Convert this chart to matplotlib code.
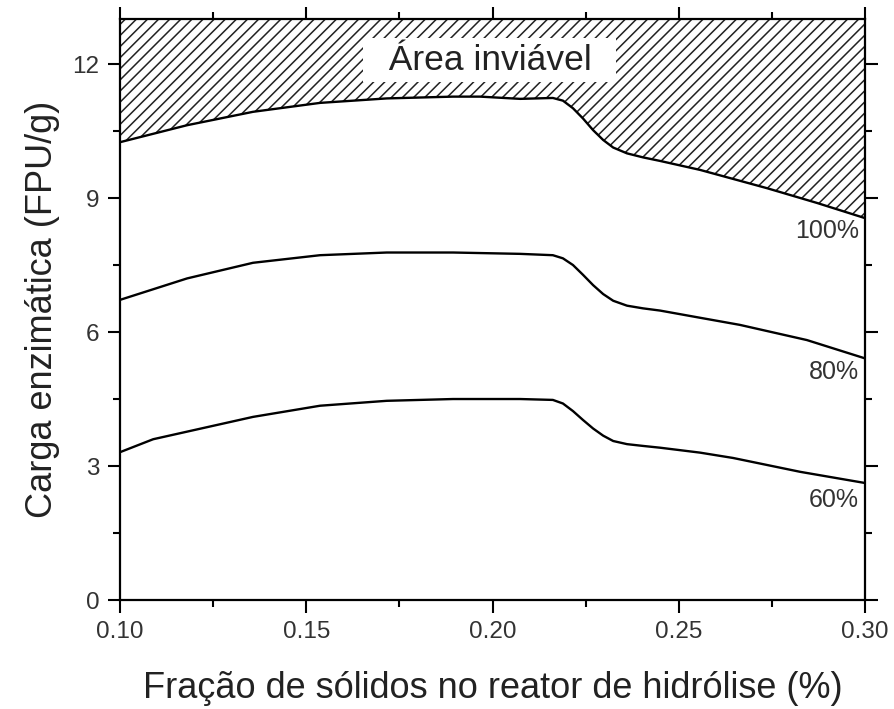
import matplotlib.pyplot as plt
from matplotlib.ticker import MultipleLocator

DPI = 100

plt.rcParams['font.family'] = ['Liberation Sans', 'DejaVu Sans']
plt.rcParams['hatch.linewidth'] = 1.1

# curves (fraction of solids vs enzyme load)
x100 = [0.100, 0.118, 0.1357, 0.1537, 0.1716, 0.1894, 0.1967, 0.2074, 0.2162, 0.2189,
        0.2216, 0.2243, 0.2270, 0.2297, 0.2324, 0.2361, 0.2404, 0.245, 0.2557, 0.2737,
        0.2871, 0.300]
y100 = [10.25, 10.63, 10.93, 11.13, 11.23, 11.27, 11.27, 11.22, 11.24, 11.18,
        11.01, 10.78, 10.52, 10.30, 10.13, 10.00, 9.91, 9.83, 9.63, 9.22,
        8.89, 8.55]

x80 = [0.100, 0.118, 0.1357, 0.1537, 0.1716, 0.1894, 0.2074, 0.2162, 0.2189, 0.2216,
       0.2243, 0.2270, 0.2297, 0.2324, 0.2361, 0.2404, 0.245, 0.255, 0.2664, 0.2844,
       0.300]
y80 = [6.72, 7.20, 7.55, 7.72, 7.78, 7.78, 7.75, 7.72, 7.65, 7.50,
       7.28, 7.05, 6.85, 6.70, 6.59, 6.53, 6.48, 6.33, 6.16, 5.82,
       5.41]

x60 = [0.100, 0.1089, 0.1357, 0.1537, 0.1716, 0.1894, 0.2074, 0.2162, 0.2189, 0.2216,
       0.2243, 0.2270, 0.2297, 0.2324, 0.2361, 0.2404, 0.245, 0.2557, 0.2646, 0.2826,
       0.300]
y60 = [3.31, 3.60, 4.10, 4.35, 4.46, 4.50, 4.50, 4.48, 4.40, 4.23,
       4.03, 3.84, 3.68, 3.56, 3.49, 3.45, 3.41, 3.30, 3.18, 2.87,
       2.62]

curve_labels = ['100%', '80%', '60%']
label_y = [8.27, 5.10, 2.24]

fig = plt.figure(figsize=(895 / DPI, 709 / DPI), dpi=DPI)
ax = fig.add_axes([0.1341, 0.1537, 0.8324, 0.819])

# infeasible region above the 100% curve
ax.fill_between(x100, y100, 13, facecolor='white', edgecolor='#222222',
                hatch='///', linewidth=0)
for xs, ys in [(x100, y100), (x80, y80), (x60, y60)]:
    ax.plot(xs, ys, color='black', lw=1.7, solid_joinstyle='round')

for lab, yy in zip(curve_labels, label_y):
    ax.text(0.2984, yy, lab, ha='right', va='center', fontsize=18, color='#333333')

ax.text(0.1993, 12.09, '  Área inviável  ', ha='center', va='center',
        fontsize=25.5, color='#222222',
        bbox=dict(boxstyle='square,pad=0.15', facecolor='white', edgecolor='none'))

ax.set_xlim(0.10, 0.30)
ax.set_ylim(0, 13)
ax.set_xticks([0.10, 0.15, 0.20, 0.25, 0.30])
ax.set_xticklabels(['0.10', '0.15', '0.20', '0.25', '0.30'])
ax.set_yticks([0, 3, 6, 9, 12])
ax.xaxis.set_minor_locator(MultipleLocator(0.025))
ax.yaxis.set_minor_locator(MultipleLocator(1.5))
ax.tick_params(which='both', direction='out', top=True, right=True, width=1.5,
               labelsize=17.5, labelcolor='#333333', pad=6)
ax.tick_params(which='major', length=9)
ax.tick_params(which='minor', length=5)
for sp in ax.spines.values():
    sp.set_linewidth(1.6)

ax.set_xlabel('Fração de sólidos no reator de hidrólise (%)', fontsize=26,
              color='#222222', labelpad=20)
ax.set_ylabel('Carga enzimática (FPU/g)', fontsize=26, color='#222222',
              labelpad=9)

fig.savefig('out.png', dpi=DPI)
